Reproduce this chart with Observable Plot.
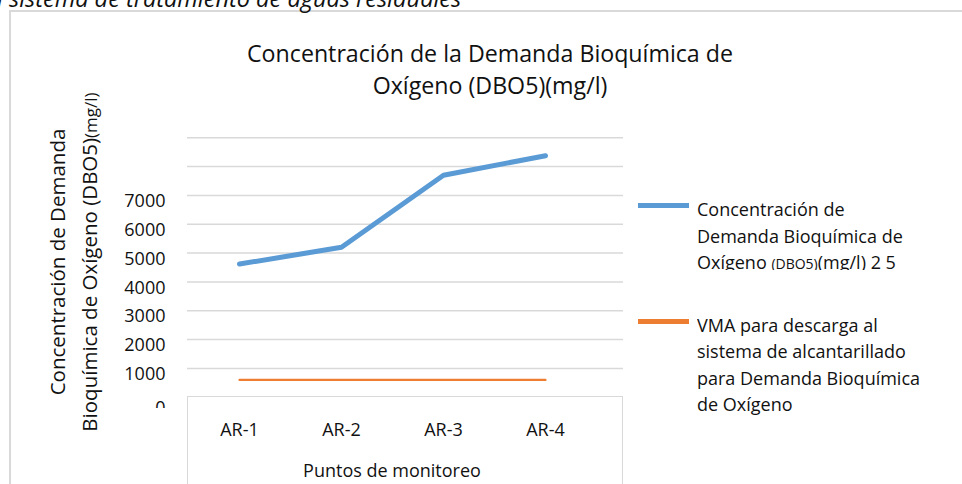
<!DOCTYPE html>
<html>
<head>
<meta charset="utf-8">
<script src="https://cdn.jsdelivr.net/npm/d3@7"></script>
<script src="https://cdn.jsdelivr.net/npm/@observablehq/plot@0.6"></script>
<style>
  html, body { margin: 0; padding: 0; background: #fff; }
  #wrap { position: relative; width: 962px; height: 484px; overflow: hidden; background: #fff;
          font-family: "Open Sans", sans-serif; color: #111; }
  #wrap > * { position: absolute; }
  .border { left: 9px; top: 10px; width: 1200px; height: 1200px; border: 2px solid #d9d9d9; box-sizing: border-box; }
  .toptext { left: -3px; top: -11.6px; font-style: italic; font-size: 23.5px; line-height: 20px; white-space: nowrap; }
  .title { left: 190px; top: 36.5px; width: 600px; text-align: center; font-size: 23.2px; line-height: 32px; }
  .ytitle { left: -137px; top: 230px; width: 420px; height: 64px; text-align: center; font-size: 20.5px;
            line-height: 32px; transform: rotate(-90deg); transform-origin: 50% 50%; white-space: nowrap; }
  .ytitle small { font-size: 17px; }
  .xtitle { left: 242px; top: 458px; width: 300px; text-align: center; font-size: 18px; line-height: 24px; }
  .box { left: 187px; top: 396px; width: 436px; height: 100px; border: 1.5px solid #d9d9d9; border-bottom: none; box-sizing: border-box; }
  .sw { left: 638px; width: 51px; height: 5px; }
  .leg { left: 697px; font-size: 18px; line-height: 26.5px; white-space: nowrap; overflow: hidden; }
  .leg small { font-size: 14px; }
  svg { position: absolute; left: 0; top: 0; }
</style>
</head>
<body>
<div id="wrap"></div>
<script>
// ---- data ----
const categories = ["AR-1", "AR-2", "AR-3", "AR-4"];
const dboValues = [4620, 5200, 7700, 8380];
const vmaValues = [600, 600, 600, 600];
const yTickLabels = [1000, 2000, 3000, 4000, 5000, 6000, 7000];
const yZeroLabel = [0];
const gridValues = [1000, 2000, 3000, 4000, 5000, 6000, 7000, 8000, 9000];
const seriesColors = ["#5b9bd5", "#ed7d31"];

const dboData = categories.map((c, i) => ({cat: c, value: dboValues[i]}));
const vmaData = categories.map((c, i) => ({cat: c, value: vmaValues[i]}));

const wrap = document.getElementById("wrap");

const chart = Plot.plot({
  width: 962,
  height: 484,
  marginTop: 137.3,
  marginBottom: 87.3,
  marginLeft: 187,
  marginRight: 339,
  style: {fontFamily: "'Open Sans', sans-serif", fontSize: "18px", color: "#111", background: "transparent", overflow: "visible"},
  x: {type: "point", domain: categories, range: [238.3, 545], padding: 0, axis: null},
  y: {domain: [0, 9000], axis: null},
  marks: [
    Plot.ruleY(gridValues, {stroke: "#d9d9d9", strokeWidth: 1.5}),
    Plot.line(vmaData, {x: "cat", y: "value", stroke: seriesColors[1], strokeWidth: 2.2}),
    Plot.line(dboData, {x: "cat", y: "value", stroke: seriesColors[0], strokeWidth: 5, strokeLinejoin: "round"}),
    Plot.axisY({ticks: yTickLabels, tickSize: 0, tickPadding: 22, dy: 6, fontSize: 18, label: null, tickFormat: d => String(d)}),
    Plot.axisY({ticks: yZeroLabel, tickSize: 0, tickPadding: 22, dy: 11, fontSize: 18, label: null, tickFormat: d => String(d), ariaLabel: "y-zero"}),
    Plot.axisX({tickSize: 0, tickPadding: 26, fontSize: 18, label: null})
  ]
});

// clip the partially hidden "0" tick label like in the reference
const svgEl = chart.tagName.toLowerCase() === "svg" ? chart : chart.querySelector("svg");
const svg = d3.select(svgEl);
svg.append("defs").append("clipPath").attr("id", "yclip")
  .attr("clipPathUnits", "userSpaceOnUse")
  .append("rect").attr("x", -2000).attr("y", 0).attr("width", 4000).attr("height", 408);
svg.selectAll("text").filter(function() { return this.textContent === "0"; })
  .each(function() {
    const grp = this.parentNode;
    const holder = document.createElementNS("http://www.w3.org/2000/svg", "g");
    holder.setAttribute("clip-path", "url(#yclip)");
    grp.parentNode.insertBefore(holder, grp);
    holder.appendChild(grp);
  });

wrap.innerHTML = `
  <div class="border"></div>
  <div class="toptext">l sistema de tratamiento de aguas residuales</div>
  <div class="title">Concentración de la Demanda Bioquímica de<br>Oxígeno (DBO5)(mg/l)</div>
  <div class="ytitle">Concentración de Demanda<br>Bioquímica de Oxígeno (DBO5)<small>(mg/l)</small></div>
  <div class="box"></div>
  <div class="xtitle">Puntos de monitoreo</div>
  <div class="sw" style="top:202.5px;background:${seriesColors[0]}"></div>
  <div class="sw" style="top:319px;background:${seriesColors[1]}"></div>
  <div class="leg" style="top:196.3px;height:73.5px">Concentración de<br>Demanda Bioquímica de<br>Oxígeno <small>(DBO5)</small>(mg/l) 2 5</div>
  <div class="leg" style="top:311.8px">VMA para descarga al<br>sistema de alcantarillado<br>para Demanda Bioquímica<br>de Oxígeno</div>
`;
wrap.appendChild(chart);
</script>
</body>
</html>
